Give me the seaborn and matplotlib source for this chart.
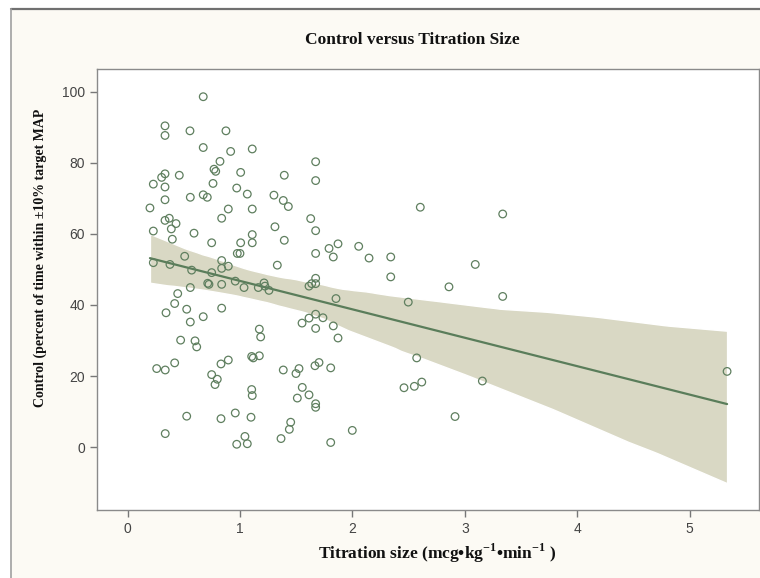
import matplotlib
matplotlib.use("Agg")
import matplotlib.pyplot as plt
import seaborn as sns
import pandas as pd
from matplotlib.lines import Line2D

# values
titration = [
    0.673, 0.333, 0.333, 0.555, 0.875, 0.673, 0.917, 1.109, 0.822, 0.769,
    0.784, 0.333, 0.303, 0.460, 1.006, 1.394, 1.673, 1.673, 0.229, 0.333,
    0.760, 0.971, 1.065, 0.558, 0.673, 0.709, 0.333, 1.302, 1.385, 1.430,
    0.199, 0.896, 1.109, 0.837, 1.629, 0.333, 0.371, 0.431, 0.389, 0.229,
    0.591, 1.311, 1.673, 1.109, 1.109, 0.748, 1.006, 1.394, 0.398, 1.792,
    0.976, 1.000, 1.673, 0.508, 0.229, 0.377, 0.837, 0.896, 1.332, 0.570,
    0.748, 0.837, 0.713, 0.724, 0.558, 0.837, 0.958, 1.036, 1.163, 1.214,
    1.222, 1.258, 1.614, 1.638, 1.673, 1.673, 0.446, 0.419, 0.342, 0.526,
    0.558, 0.673, 0.837, 1.552, 1.614, 1.673, 1.738, 1.673, 1.172, 1.184,
    0.472, 0.600, 0.615, 0.259, 0.335, 0.419, 0.831, 0.896, 1.104, 1.118,
    1.172, 1.385, 1.498, 1.525, 1.667, 1.703, 0.748, 0.798, 0.778, 1.104,
    1.109, 1.554, 1.510, 1.614, 1.673, 1.673, 0.526, 0.831, 0.958, 1.098,
    1.451, 1.439, 1.365, 0.335, 1.044, 0.971, 1.065, 2.604, 3.337, 1.872,
    1.830, 2.056, 2.148, 2.341, 2.341, 3.093, 2.859, 3.337, 1.854, 2.497,
    1.830, 1.872, 2.572, 2.459, 2.551, 2.617, 3.156, 2.913, 1.999, 1.807,
    1.807, 5.333,
]
control = [
    98.6, 90.4, 87.7, 89.0, 89.0, 84.3, 83.2, 83.9, 80.4, 78.2,
    77.6, 76.9, 75.9, 76.5, 77.3, 76.5, 80.3, 75.0, 74.0, 73.2,
    74.2, 72.9, 71.2, 70.3, 71.0, 70.3, 69.6, 70.9, 69.4, 67.7,
    67.3, 67.0, 67.0, 64.4, 64.3, 63.8, 64.4, 62.9, 61.4, 60.8,
    60.2, 62.0, 60.9, 59.8, 57.5, 57.5, 57.5, 58.2, 58.5, 55.9,
    54.5, 54.5, 54.5, 53.7, 51.9, 51.4, 52.5, 50.9, 51.2, 49.8,
    49.1, 50.3, 46.1, 45.8, 44.9, 45.8, 46.7, 44.9, 44.9, 46.2,
    45.3, 44.1, 45.3, 46.0, 47.5, 46.0, 43.2, 40.4, 37.8, 38.8,
    35.2, 36.7, 39.1, 34.9, 36.3, 37.4, 36.4, 33.4, 33.2, 31.0,
    30.1, 29.9, 28.2, 22.1, 21.7, 23.7, 23.4, 24.5, 25.5, 25.1,
    25.7, 21.7, 20.7, 22.1, 22.9, 23.8, 20.4, 19.1, 17.6, 16.2,
    14.5, 16.8, 13.8, 14.7, 12.2, 11.2, 8.7, 8.0, 9.6, 8.4,
    7.0, 5.0, 2.4, 3.8, 3.0, 0.8, 0.95, 67.5, 65.6, 57.2,
    53.5, 56.5, 53.2, 53.5, 47.9, 51.4, 45.1, 42.4, 41.8, 40.8,
    34.1, 30.7, 25.1, 16.7, 17.1, 18.3, 18.6, 8.6, 4.7, 1.3,
    22.3, 21.3,
]
x_ticks = [0, 1, 2, 3, 4, 5]
y_ticks = [0, 20, 40, 60, 80, 100]

df = pd.DataFrame({"titration": titration, "control": control})

sns.set_theme(style="ticks")
plt.rcParams["font.family"] = ["Liberation Sans", "DejaVu Sans"]
plt.rcParams["mathtext.fontset"] = "custom"
plt.rcParams["mathtext.rm"] = "Liberation Serif:bold"
plt.rcParams["mathtext.bf"] = "Liberation Serif:bold"

fig = plt.figure(figsize=(7.6, 5.78), dpi=100)
fig.patch.set_facecolor("white")
# cream panel with a grey frame, like the source screenshot
fig.patches.append(plt.Rectangle((11 / 760, 0), 1, 1 - 9 / 578, transform=fig.transFigure,
                                 facecolor="#fcfaf4", edgecolor="none", zorder=-10))
fig.lines.append(Line2D([11 / 760, 1], [1 - 9 / 578, 1 - 9 / 578], transform=fig.transFigure,
                        color="#707070", lw=1.6))
fig.lines.append(Line2D([11 / 760, 11 / 760], [0, 1 - 9 / 578], transform=fig.transFigure,
                        color="#a0a0a0", lw=1.2))

ax = fig.add_axes([97 / 760, 1 - 510 / 578, 662 / 760, 441 / 578])
ax.set_facecolor("white")

sns.regplot(data=df, x="titration", y="control", ax=ax, scatter=False, ci=98,
            seed=0, truncate=True, color="#5a7d5a", line_kws={"lw": 1.6, "zorder": 3})
for coll in ax.collections:
    coll.set_facecolor("#d9d8c4")
    coll.set_alpha(1)
    coll.set_zorder(1)

sns.scatterplot(data=df, x="titration", y="control", ax=ax, marker="o", s=30,
                facecolor="none", edgecolor="#5f7f5f", linewidth=0.9, zorder=4)

ax.set_xlim(-0.272, 5.617)
ax.set_ylim(-17.7, 106.4)
ax.set_xticks(x_ticks)
ax.set_yticks(y_ticks)
ax.tick_params(colors="#777777", labelcolor="#444444", labelsize=10, length=5, width=1)
for sp in ax.spines.values():
    sp.set_visible(True)
    sp.set_color("#8a8a8a")
    sp.set_linewidth(1)

serif = ["Liberation Serif", "DejaVu Serif"]
ax.set_xlabel(r"Titration size (mcg•kg$^{\mathrm{-1}}$•min$^{\mathrm{-1}}$ )",
              family=serif, fontweight="bold", fontsize=12.5, color="#111111")
ax.set_ylabel("Control (percent of time within ±10% target MAP",
              family=serif, fontweight="bold", fontsize=10, color="#111111")
ax.xaxis.set_label_coords(0.514, -0.073)
ax.yaxis.set_label_coords(-0.076, 0.571)
fig.text(0.543, 1 - 40 / 578, "Control versus Titration Size", family=serif,
         fontweight="bold", fontsize=12.5, ha="center", va="center", color="#111111")

fig.savefig("out.png", dpi=100, facecolor=fig.get_facecolor())
